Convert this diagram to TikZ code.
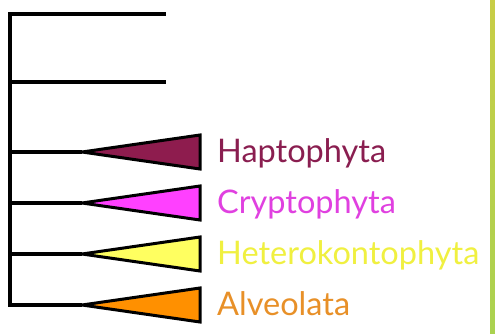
\documentclass[tikz,border=0pt]{standalone}
\usepackage{fontspec}
\setmainfont{Lato}
\begin{document}
\begin{tikzpicture}[x=1pt,y=-1pt,
  branch/.style={line width=3.2pt},
  clade/.style={line width=3pt, line join=miter},
  lbl/.style={anchor=base west, inner sep=0pt, font=\fontsize{32.5}{34}\selectfont}]
\definecolor{hapto}{HTML}{8E1C4E}
\definecolor{crypto}{HTML}{FF40FF}
\definecolor{hetero}{HTML}{FFFF60}
\definecolor{alveo}{HTML}{FF9000}
\definecolor{haptoT}{HTML}{8A1E50}
\definecolor{cryptoT}{HTML}{E040E0}
\definecolor{heteroT}{HTML}{F0F040}
\definecolor{alveoT}{HTML}{E89028}
\useasboundingbox (0,0) rectangle (495,334);
\fill[white] (0,0) rectangle (495,334);
\shade[top color={rgb,255:red,200;green,205;blue,70}, bottom color={rgb,255:red,170;green,210;blue,80}] (490,0) rectangle (495,334);
% backbone
\coordinate (top) at (10,14);
\coordinate (bot) at (10,305);
\draw[branch, line cap=rect] (top) -- (bot);
\coordinate (b1) at (10,14);  \coordinate (e1) at (166,14);
\coordinate (b2) at (10,82);  \coordinate (e2) at (166,82);
\draw[branch] (b1) -- (e1);
\draw[branch] (b2) -- (e2);
% clades
\foreach \y/\c/\t/\n in {152/hapto/haptoT/Haptophyta, 203/crypto/cryptoT/Cryptophyta, 254/hetero/heteroT/Heterokontophyta, 305/alveo/alveoT/Alveolata}{
  \coordinate (s\n) at (10,\y);
  \coordinate (t\n) at (82,\y);
  \draw[branch] (s\n) -- (t\n);
  \filldraw[clade, fill=\c] (t\n) -- (200,\y-17) -- (200,\y+17) -- cycle;
  \node[lbl, text=\t] (l\n) at (217,\y+10) {\n};
}
\end{tikzpicture}
\end{document}
